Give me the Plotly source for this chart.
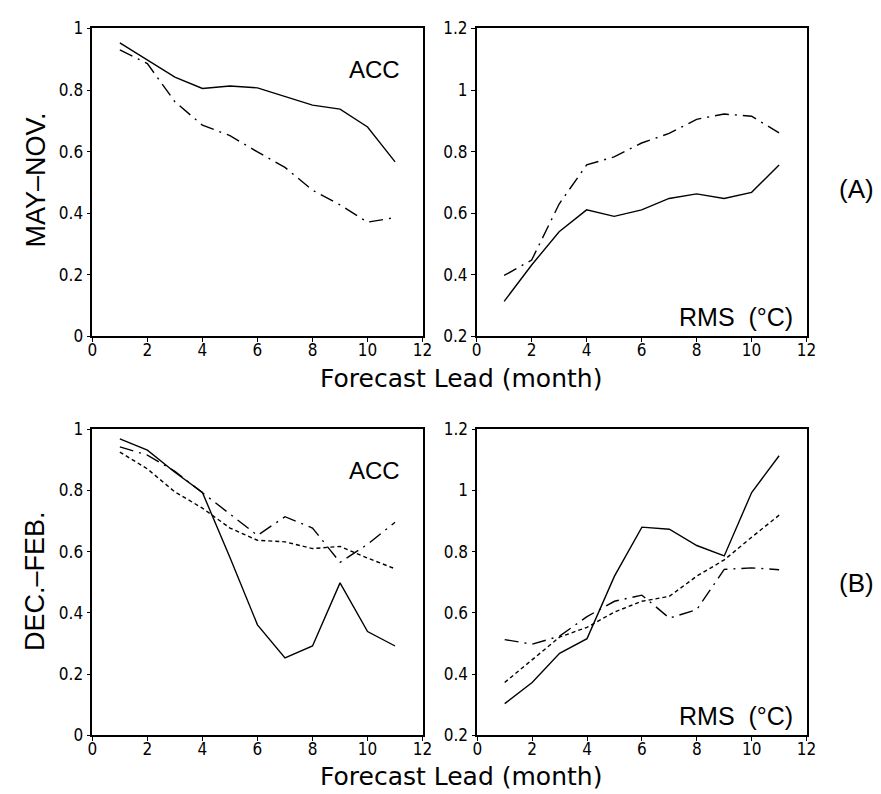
import plotly.graph_objects as go

# Forecast lead (months)
LEADS = [1, 2, 3, 4, 5, 6, 7, 8, 9, 10, 11]

# (A) May-Nov. targets
acc_a_solid = [0.953, 0.897, 0.842, 0.805, 0.813, 0.807, 0.780, 0.751, 0.738, 0.680, 0.567]
acc_a_dashdot = [0.930, 0.886, 0.762, 0.686, 0.652, 0.599, 0.549, 0.475, 0.427, 0.371, 0.386]
rms_a_solid = [0.314, 0.432, 0.540, 0.611, 0.590, 0.611, 0.648, 0.663, 0.648, 0.668, 0.757]
rms_a_dashdot = [0.398, 0.448, 0.630, 0.757, 0.783, 0.828, 0.859, 0.905, 0.922, 0.915, 0.861]

# (B) Dec.-Feb. targets
acc_b_solid = [0.968, 0.931, 0.859, 0.793, 0.581, 0.361, 0.253, 0.292, 0.498, 0.339, 0.292]
acc_b_dashdot = [0.942, 0.915, 0.862, 0.793, 0.724, 0.653, 0.714, 0.677, 0.565, 0.624, 0.696]
acc_b_dotted = [0.925, 0.870, 0.795, 0.742, 0.677, 0.637, 0.632, 0.610, 0.617, 0.579, 0.544]
rms_b_solid = [0.304, 0.373, 0.468, 0.516, 0.720, 0.880, 0.873, 0.820, 0.786, 0.993, 1.113]
rms_b_dashdot = [0.513, 0.498, 0.524, 0.588, 0.638, 0.658, 0.583, 0.611, 0.742, 0.747, 0.741]
rms_b_dotted = [0.373, 0.447, 0.521, 0.553, 0.603, 0.638, 0.654, 0.720, 0.773, 0.847, 0.919]

SOLID = dict(color='black', width=1.4)
DASHDOT = dict(color='black', width=1.4, dash='14px,6px,2px,6px')
DOTTED = dict(color='black', width=1.4, dash='4px,3px')

W, H = 881, 794
# panel boxes in pixels: (left, right, top, bottom)
boxes = {
    1: (80.7, 416.7, 10.7, 326.7),
    2: (471.7, 807.3, 10.7, 326.7),
    3: (80.7, 416.7, 421.7, 736.0),
    4: (472.3, 807.3, 421.7, 736.0),
}

fig = go.Figure()

panels = [
    (1, [(acc_a_solid, SOLID), (acc_a_dashdot, DASHDOT)]),
    (2, [(rms_a_solid, SOLID), (rms_a_dashdot, DASHDOT)]),
    (3, [(acc_b_solid, SOLID), (acc_b_dashdot, DASHDOT), (acc_b_dotted, DOTTED)]),
    (4, [(rms_b_solid, SOLID), (rms_b_dashdot, DASHDOT), (rms_b_dotted, DOTTED)]),
]
for n, series in panels:
    suffix = '' if n == 1 else str(n)
    for vals, line in series:
        fig.add_trace(go.Scatter(x=LEADS, y=vals, mode='lines', line=line,
                                 xaxis='x' + suffix, yaxis='y' + suffix, showlegend=False))

tick_font = dict(family='Liberation Sans Narrow, DejaVu Sans Condensed, Arial Narrow, sans-serif',
                 size=17, color='black')
axis_common = dict(showgrid=False, zeroline=False, showline=True, mirror=True,
                   linecolor='black', linewidth=1.5, ticks='outside', ticklen=4,
                   tickcolor='black', tickwidth=1, tickfont=tick_font)

layout = dict(width=W, height=H, margin=dict(l=0, r=0, t=0, b=0),
              paper_bgcolor='white', plot_bgcolor='white', showlegend=False)
for n, (l, r, t, b) in boxes.items():
    suffix = '' if n == 1 else str(n)
    yr = [0, 1] if n in (1, 3) else [0.2, 1.2]
    layout['xaxis' + suffix] = dict(axis_common, domain=[l / W, r / W], range=[0, 12],
                                    dtick=2, tick0=0, anchor='y' + suffix,
                                    ticklabelstandoff=-7)
    layout['yaxis' + suffix] = dict(axis_common, domain=[1 - b / H, 1 - t / H], range=yr,
                                    dtick=0.2, tick0=0, anchor='x' + suffix)
fig.update_layout(**layout)


def font(size, family='Liberation Sans, Arial, sans-serif'):
    return dict(family=family, size=size, color='black')


def note(x, y, text, f, angle=0):
    fig.add_annotation(x=x / W, y=1 - y / H, xref='paper', yref='paper', text=text,
                       showarrow=False, font=f, textangle=angle,
                       xanchor='center', yanchor='middle')


wide = 'DejaVu Sans, Verdana, sans-serif'
note(368, 53, 'ACC', font(24))
note(368, 464, 'ACC', font(24))
note(736, 307, 'RMS  (°C)', font(25))
note(736, 716, 'RMS  (°C)', font(25))
note(858, 175, '(A)', font(26))
note(858, 580, '(B)', font(26))
note(23, 166, 'MAY\u2013NOV.', font(27), -90)
note(23, 578, 'DEC.\u2013FEB.', font(27), -90)
note(456, 370, 'Forecast Lead (month)', font(25, wide))
note(456, 778, 'Forecast Lead (month)', font(25, wide))

fig.write_html("out.html")
